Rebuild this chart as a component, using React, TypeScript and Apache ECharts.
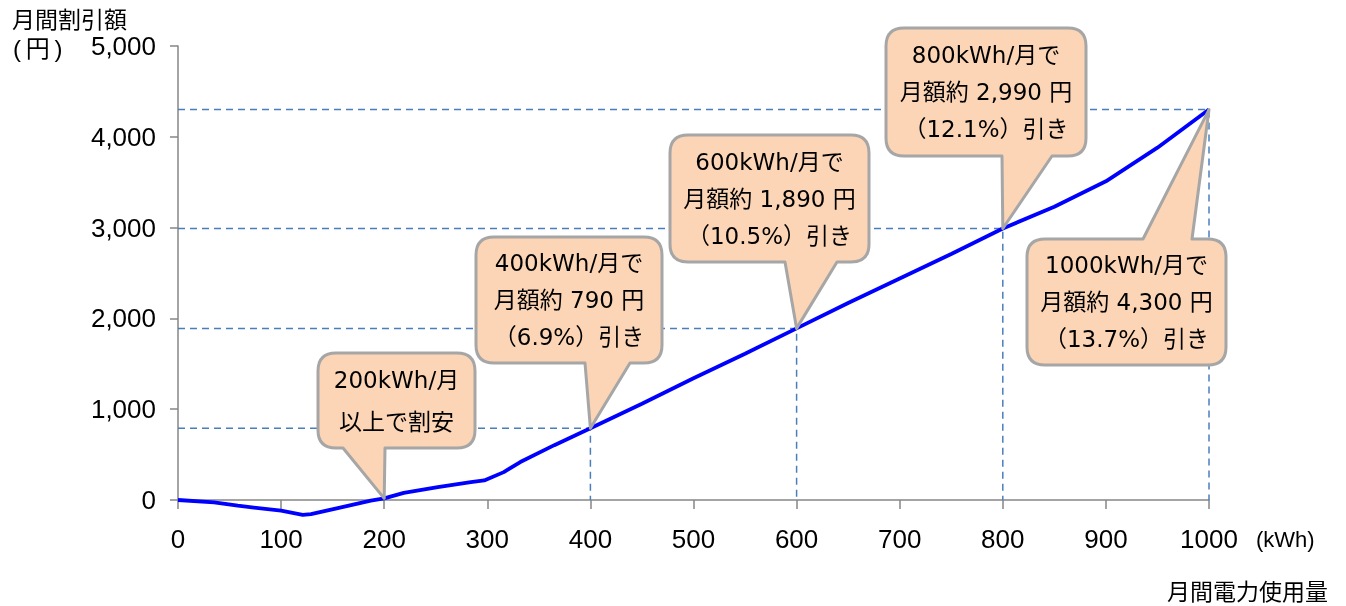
import React, { useEffect, useRef } from "react";
import * as echarts from "echarts";

// Monthly usage (kWh) and monthly discount (yen)
const KWH = [0, 35, 58, 100, 121, 129, 155, 187, 200, 219, 252, 284, 297, 316, 332, 365, 400, 450, 500, 550, 600, 650, 700, 750, 800, 850, 900, 950, 1000];
const YEN = [0, -26, -63, -118, -163, -155, -89, -7, 18, 78, 141, 196, 215, 307, 418, 604, 790, 1060, 1340, 1610, 1890, 2170, 2440, 2710, 2990, 3230, 3510, 3880, 4300];

// Callout anchor points
const CALLOUT_KWH = [200, 400, 600, 800, 1000];
const CALLOUT_YEN = [18, 790, 1890, 2990, 4300];
const CALLOUT_LINES = [
  ["200kWh/月", "以上で割安"],
  ["400kWh/月で", "月額約 790 円", "（6.9%）引き"],
  ["600kWh/月で", "月額約 1,890 円", "（10.5%）引き"],
  ["800kWh/月で", "月額約 2,990 円", "（12.1%）引き"],
  ["1000kWh/月で", "月額約 4,300 円", "（13.7%）引き"],
];
// callouts that get dashed guide lines
const GUIDE_INDEX = [1, 2, 3, 4];

// Layout of the callout boxes (pixels)
const BUBBLES = [
  { box: [318, 353, 475, 448], base: [343, 385], side: "bottom" },
  { box: [476, 237, 662, 363], base: [585, 630], side: "bottom" },
  { box: [670, 135, 869, 262], base: [785, 837], side: "bottom" },
  { box: [886, 28, 1086, 156], base: [1002, 1052], side: "bottom" },
  { box: [1027, 239, 1226, 365], base: [1143, 1192], side: "top" },
];

const CJK = "Noto Sans CJK JP";
const CALLOUT_FONT = "'DejaVu Sans', 'Noto Sans CJK JP'";
const AXIS_FONT = "'Liberation Sans', Arial";

function bubblePath(b: any, tip: number[]) {
  const [x0, y0, x1, y1] = b.box;
  const r = 18;
  const [b1, b2] = b.base;
  const [tx, ty] = tip;
  let d = `M${x0 + r},${y0}`;
  if (b.side === "top") d += ` L${b1},${y0} L${tx},${ty} L${b2},${y0}`;
  d += ` L${x1 - r},${y0} Q${x1},${y0} ${x1},${y0 + r} L${x1},${y1 - r} Q${x1},${y1} ${x1 - r},${y1}`;
  if (b.side === "bottom") d += ` L${b2},${y1} L${tx},${ty} L${b1},${y1}`;
  d += ` L${x0 + r},${y1} Q${x0},${y1} ${x0},${y1 - r} L${x0},${y0 + r} Q${x0},${y0} ${x0 + r},${y0} Z`;
  return d;
}

export default function App() {
  const ref = useRef<HTMLDivElement>(null);
  useEffect(() => {
    if (!ref.current) return;
    const chart = echarts.init(ref.current, null, { renderer: "svg" });
    const axisLineStyle = { color: "#868686", width: 1.5 };
    const guideSeries = GUIDE_INDEX.map((i) => ({
      type: "line",
      data: [
        [0, CALLOUT_YEN[i]],
        [CALLOUT_KWH[i], CALLOUT_YEN[i]],
        [CALLOUT_KWH[i], 0],
      ],
      symbol: "none",
      silent: true,
      z: 1,
      lineStyle: { color: "#4A7EBB", width: 1.5, type: [7, 5] },
    }));
    chart.setOption({
      animation: false,
      grid: { left: 178, right: 137, top: 46, bottom: 106 },
      xAxis: {
        type: "value",
        min: 0,
        max: 1000,
        interval: 100,
        axisLine: { show: true, lineStyle: axisLineStyle },
        axisTick: { show: true, length: 9, lineStyle: axisLineStyle },
        axisLabel: {
          color: "#000",
          fontSize: 26,
          fontFamily: AXIS_FONT,
          margin: 26,
          formatter: (v: number) => String(v),
        },
        splitLine: { show: false },
      },
      yAxis: {
        type: "value",
        min: 0,
        max: 5000,
        interval: 1000,
        axisLine: { show: true, lineStyle: axisLineStyle },
        axisTick: { show: true, length: 8, lineStyle: axisLineStyle },
        axisLabel: {
          color: "#000",
          fontSize: 26,
          fontFamily: AXIS_FONT,
          margin: 22,
          formatter: (v: number) => v.toLocaleString("en-US"),
        },
        splitLine: { show: false },
      },
      graphic: [
        { type: "text", x: 12, y: 18, style: { text: "月間割引額", fontSize: 23, fontFamily: CJK, fill: "#000", verticalAlign: "middle" } },
        { type: "text", x: 13, y: 48, style: { text: "(\u2009円\u2009)", fontSize: 24, fontFamily: "'Liberation Sans', 'Noto Sans CJK JP'", fill: "#000", verticalAlign: "middle" } },
        { type: "text", x: 1256, y: 539, style: { text: "(kWh)", fontSize: 22, fontFamily: AXIS_FONT, fill: "#000", verticalAlign: "middle" } },
        { type: "text", x: 1167, y: 590, style: { text: "月間電力使用量", fontSize: 23, fontFamily: CJK, fill: "#000", verticalAlign: "middle" } },
      ],
      series: [
        ...guideSeries,
        {
          type: "line",
          data: KWH.map((x, i) => [x, YEN[i]]),
          symbol: "none",
          clip: false,
          z: 3,
          lineStyle: { color: "#0000FF", width: 3.8 },
        },
        {
          type: "custom",
          clip: false,
          z: 5,
          data: CALLOUT_KWH.map((x, i) => [x, CALLOUT_YEN[i]]),
          renderItem: (params: any, api: any) => {
            const i = params.dataIndex;
            const tip = api.coord([api.value(0), api.value(1)]);
            const b = BUBBLES[i];
            const lines = CALLOUT_LINES[i];
            const cx = (b.box[0] + b.box[2]) / 2;
            const cy = (b.box[1] + b.box[3]) / 2;
            const lh = lines.length === 2 ? 42 : 37;
            const children: any[] = [
              {
                type: "path",
                shape: { pathData: bubblePath(b, tip) },
                style: { fill: "#FBD5B5", stroke: "#A6A6A6", lineWidth: 3, lineJoin: "round" },
              },
            ];
            lines.forEach((t, k) => {
              children.push({
                type: "text",
                style: {
                  text: t,
                  x: cx,
                  y: cy + (k - (lines.length - 1) / 2) * lh,
                  align: "center",
                  verticalAlign: "middle",
                  fontSize: 23,
                  fontFamily: CALLOUT_FONT,
                  fill: "#000",
                },
              });
            });
            return { type: "group", children };
          },
        },
      ],
    });
    return () => chart.dispose();
  }, []);
  return <div ref={ref} style={{ position: "fixed", left: 0, top: 0, width: 1346, height: 606 }} />;
}
